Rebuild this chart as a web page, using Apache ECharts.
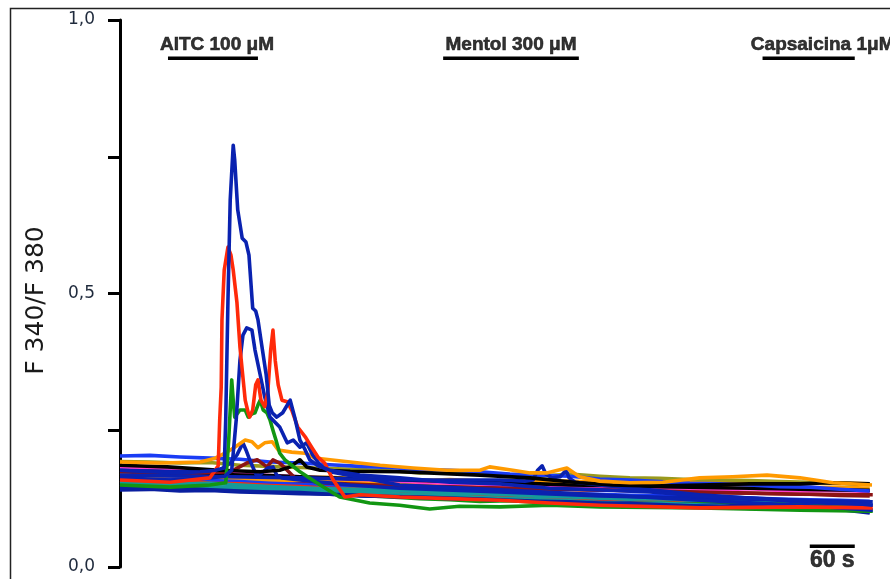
<!DOCTYPE html>
<html>
<head>
<meta charset="utf-8">
<script src="https://cdn.jsdelivr.net/npm/echarts@6/dist/echarts.min.js"></script>
<style>
  html, body { margin: 0; padding: 0; background: #fff; }
  #chart { width: 890px; height: 579px; }
</style>
</head>
<body>
<div id="chart"></div>
<script>
// time in s, values are F340/F380 ratio

// shared time grid for the flat (non responding) cells
const baseTime = [0, 40, 80, 120, 160, 200, 240, 280, 320, 360, 400, 440, 480, 520, 560, 600, 640, 680, 720, 760, 800, 840, 880, 920, 960, 1000];

const flatBlue1 = [0.203, 0.204, 0.201, 0.199, 0.197, 0.192, 0.190, 0.187, 0.184, 0.182, 0.178, 0.177, 0.174, 0.170, 0.168, 0.166, 0.161, 0.159, 0.156, 0.153, 0.152, 0.150, 0.147, 0.146, 0.142, 0.139];
const flatOlive = [0.193, 0.192, 0.190, 0.191, 0.186, 0.184, 0.182, 0.180, 0.178, 0.176, 0.172, 0.175, 0.170, 0.168, 0.166, 0.170, 0.166, 0.163, 0.162, 0.160, 0.159, 0.158, 0.156, 0.155, 0.153, 0.151];
const flatMagenta = [0.180, 0.181, 0.176, 0.172, 0.170, 0.167, 0.165, 0.162, 0.160, 0.158, 0.155, 0.153, 0.152, 0.150, 0.147, 0.146, 0.145, 0.146, 0.143, 0.142, 0.141, 0.143, 0.140, 0.139, 0.140, 0.138];
const flatOrange2 = [0.165, 0.166, 0.163, 0.162, 0.160, 0.158, 0.159, 0.156, 0.157, 0.155, 0.154, 0.153, 0.152, 0.151, 0.152, 0.150, 0.149, 0.150, 0.148, 0.147, 0.148, 0.146, 0.147, 0.145, 0.146, 0.144];
const flatOrange3 = [0.172, 0.170, 0.171, 0.168, 0.166, 0.165, 0.163, 0.164, 0.161, 0.160, 0.158, 0.160, 0.157, 0.158, 0.156, 0.157, 0.155, 0.158, 0.156, 0.155, 0.157, 0.154, 0.155, 0.153, 0.154, 0.152];
const flatRed1 = [0.158, 0.155, 0.157, 0.153, 0.152, 0.149, 0.147, 0.144, 0.142, 0.140, 0.136, 0.135, 0.133, 0.129, 0.128, 0.126, 0.122, 0.123, 0.120, 0.118, 0.120, 0.117, 0.116, 0.118, 0.114, 0.112];
const flatRed2 = [0.146, 0.148, 0.145, 0.143, 0.142, 0.139, 0.138, 0.136, 0.134, 0.133, 0.130, 0.131, 0.128, 0.127, 0.125, 0.124, 0.122, 0.121, 0.120, 0.119, 0.117, 0.116, 0.118, 0.115, 0.114, 0.113];
const flatTeal1 = [0.152, 0.149, 0.150, 0.147, 0.145, 0.142, 0.140, 0.139, 0.137, 0.134, 0.132, 0.130, 0.127, 0.125, 0.123, 0.121, 0.118, 0.116, 0.117, 0.114, 0.112, 0.107, 0.110, 0.108, 0.106, 0.100];
const flatTeal2 = [0.156, 0.154, 0.152, 0.153, 0.150, 0.147, 0.145, 0.143, 0.142, 0.140, 0.138, 0.135, 0.134, 0.132, 0.129, 0.128, 0.126, 0.124, 0.125, 0.122, 0.120, 0.121, 0.118, 0.117, 0.119, 0.116];
const flatNavy1 = [0.145, 0.143, 0.144, 0.141, 0.139, 0.137, 0.136, 0.133, 0.131, 0.129, 0.128, 0.126, 0.124, 0.122, 0.120, 0.119, 0.117, 0.116, 0.114, 0.112, 0.111, 0.109, 0.108, 0.107, 0.105, 0.099];
const flatNavy2 = [0.141, 0.142, 0.139, 0.140, 0.137, 0.136, 0.134, 0.133, 0.130, 0.129, 0.127, 0.125, 0.124, 0.122, 0.121, 0.119, 0.118, 0.117, 0.115, 0.114, 0.113, 0.112, 0.111, 0.110, 0.108, 0.106];
const flatBlue2 = [0.162, 0.160, 0.161, 0.158, 0.156, 0.153, 0.151, 0.149, 0.147, 0.145, 0.143, 0.141, 0.140, 0.138, 0.136, 0.134, 0.133, 0.131, 0.130, 0.128, 0.127, 0.126, 0.124, 0.123, 0.122, 0.120];
const flatMaroon = [0.168, 0.166, 0.167, 0.163, 0.160, 0.158, 0.157, 0.154, 0.152, 0.151, 0.149, 0.148, 0.146, 0.145, 0.143, 0.142, 0.141, 0.140, 0.139, 0.137, 0.136, 0.135, 0.134, 0.133, 0.131, 0.130];
const flatGreen = [0.148, 0.146, 0.147, 0.144, 0.142, 0.140, 0.137, 0.135, 0.131, 0.128, 0.125, 0.123, 0.120, 0.121, 0.118, 0.119, 0.117, 0.116, 0.117, 0.115, 0.116, 0.114, 0.115, 0.113, 0.114, 0.112];
const flatBlack = [0.176, 0.175, 0.173, 0.170, 0.168, 0.167, 0.165, 0.163, 0.161, 0.160, 0.158, 0.157, 0.155, 0.153, 0.152, 0.150, 0.149, 0.148, 0.147, 0.146, 0.145, 0.144, 0.143, 0.142, 0.141, 0.140];

// responding cells, [time, ratio]
const blueTall = [[0, 0.177], [40, 0.174], [80, 0.172], [107, 0.174], [127, 0.177], [139, 0.181], [141, 0.269], [144, 0.488], [147, 0.671], [151, 0.771], [153, 0.744], [157, 0.653], [163, 0.601], [168, 0.594], [172, 0.570], [177, 0.473], [181, 0.468], [184, 0.452], [189, 0.406], [195, 0.351], [199, 0.296], [203, 0.282], [209, 0.274], [217, 0.282], [227, 0.305], [233, 0.274], [240, 0.232], [247, 0.214], [253, 0.196], [264, 0.185], [280, 0.177], [320, 0.168], [373, 0.163], [440, 0.155], [507, 0.152], [573, 0.144], [640, 0.141], [707, 0.137], [773, 0.130], [840, 0.126], [907, 0.122], [973, 0.117], [1004, 0.113]];
const blueSecond = [[0, 0.163], [67, 0.159], [120, 0.163], [140, 0.166], [149, 0.177], [155, 0.269], [160, 0.378], [164, 0.424], [169, 0.437], [176, 0.433], [180, 0.397], [187, 0.351], [193, 0.311], [200, 0.274], [213, 0.256], [223, 0.227], [231, 0.232], [240, 0.219], [249, 0.227], [257, 0.205], [267, 0.186], [280, 0.174], [373, 0.150], [507, 0.141], [640, 0.132], [773, 0.122], [907, 0.113], [1004, 0.104]];
const redPeak = [[0, 0.159], [67, 0.155], [120, 0.163], [131, 0.185], [133, 0.269], [135, 0.329], [136, 0.452], [139, 0.543], [144, 0.585], [148, 0.570], [151, 0.543], [156, 0.483], [160, 0.402], [163, 0.360], [167, 0.305], [171, 0.282], [173, 0.274], [177, 0.287], [181, 0.333], [184, 0.342], [188, 0.305], [193, 0.293], [197, 0.318], [201, 0.397], [204, 0.433], [207, 0.378], [211, 0.333], [216, 0.305], [223, 0.302], [229, 0.287], [237, 0.256], [247, 0.238], [256, 0.218], [264, 0.201], [273, 0.190], [284, 0.160], [300, 0.128], [320, 0.132], [373, 0.128], [440, 0.125], [507, 0.122], [573, 0.117], [640, 0.113], [773, 0.108], [907, 0.110], [1004, 0.108]];
const greenPeak = [[0, 0.150], [67, 0.146], [120, 0.150], [141, 0.154], [145, 0.232], [148, 0.315], [149, 0.342], [151, 0.305], [153, 0.274], [160, 0.287], [167, 0.287], [171, 0.274], [176, 0.280], [180, 0.282], [184, 0.296], [187, 0.305], [191, 0.287], [196, 0.282], [200, 0.269], [204, 0.250], [208, 0.232], [213, 0.208], [220, 0.196], [229, 0.186], [240, 0.174], [267, 0.150], [293, 0.128], [333, 0.117], [373, 0.113], [413, 0.106], [453, 0.111], [507, 0.110], [573, 0.113], [640, 0.110], [773, 0.108], [907, 0.104], [1004, 0.102]];
const orangeBump = [[0, 0.192], [53, 0.190], [107, 0.192], [127, 0.199], [140, 0.208], [153, 0.219], [167, 0.232], [176, 0.229], [184, 0.218], [193, 0.227], [203, 0.229], [211, 0.214], [229, 0.210], [247, 0.208], [260, 0.199], [280, 0.196], [307, 0.192], [347, 0.186], [391, 0.181], [436, 0.177], [480, 0.177], [493, 0.183], [524, 0.177], [547, 0.172], [569, 0.172], [596, 0.181], [613, 0.165], [640, 0.157], [680, 0.154], [724, 0.155], [773, 0.163], [817, 0.165], [863, 0.168], [907, 0.163], [951, 0.154], [1003, 0.150]];
const blackBump = [[0, 0.186], [63, 0.183], [133, 0.177], [187, 0.174], [213, 0.177], [227, 0.183], [240, 0.196], [249, 0.183], [267, 0.177], [307, 0.175], [373, 0.174], [480, 0.168], [547, 0.163], [613, 0.154], [657, 0.150], [707, 0.148], [773, 0.150], [840, 0.152], [907, 0.152], [943, 0.154], [1000, 0.152]];
const blueMentol = [[0, 0.168], [107, 0.166], [240, 0.163], [373, 0.159], [440, 0.159], [507, 0.159], [540, 0.157], [551, 0.159], [557, 0.177], [563, 0.185], [568, 0.170], [576, 0.163], [587, 0.165], [595, 0.177], [599, 0.163], [607, 0.155], [640, 0.150], [707, 0.141], [773, 0.132], [840, 0.126], [907, 0.119], [1004, 0.113]];
const blueSmall = [[0, 0.177], [80, 0.174], [133, 0.177], [147, 0.190], [156, 0.205], [164, 0.227], [168, 0.214], [173, 0.196], [179, 0.177], [183, 0.165], [191, 0.174], [197, 0.181], [204, 0.183], [209, 0.168], [216, 0.163], [240, 0.159], [307, 0.150], [373, 0.144], [507, 0.137], [640, 0.130], [773, 0.126], [907, 0.122], [1004, 0.119]];
const maroonBump = [[0, 0.174], [80, 0.170], [147, 0.174], [169, 0.190], [183, 0.196], [196, 0.183], [204, 0.196], [213, 0.190], [223, 0.177], [233, 0.163], [267, 0.154], [373, 0.148], [507, 0.144], [640, 0.141], [773, 0.137], [907, 0.133], [1004, 0.132]];

// drug application bars
const drugNames = ['AITC 100 μM', 'Mentol 300 μM', 'Capsaicina 1μM'];
const drugStart = [64, 431, 857];
const drugEnd = [184, 612, 980];
const drugLevel = 0.930;
const drugTextLevel = 0.954;

// 60 s scale bar
const scaleBarTime = [920, 980];
const scaleBarLevel = 0.038;

const yTicks = [0, 0.25, 0.5, 0.75, 1];
const yTickLabels = ['0,0', '', '0,5', '', '1,0'];

const zip = (values) => values.map((v, i) => [baseTime[i], v]);

function trace(color, data, z) {
  return {
    type: 'line',
    data,
    symbol: 'none',
    smooth: false,
    z: z || 2,
    lineStyle: { color, width: 3.6, join: 'round' },
    silent: true,
  };
}

const series = [
  trace('#8c1414', zip(flatMaroon)),
  trace('#ff9a00', zip(flatOrange2)),
  trace('#ff9a00', zip(flatOrange3)),
  trace('#9a9a1e', zip(flatOlive)),
  trace('#ff3ccc', zip(flatMagenta)),
  trace('#000000', zip(flatBlack)),
  trace('#1a3cf5', zip(flatBlue1)),
  trace('#1a3cf5', zip(flatBlue2)),
  trace('#ff2a0a', zip(flatRed1)),
  trace('#ff2a0a', zip(flatRed2)),
  trace('#159a9a', zip(flatTeal2)),
  trace('#129612', zip(flatGreen)),
  trace('#0a1fa0', zip(flatNavy2)),
  trace('#159a9a', zip(flatTeal1)),
  trace('#0a1fa0', zip(flatNavy1)),
  trace('#8c1414', maroonBump, 3),
  trace('#0a22b0', blueSmall, 3),
  trace('#0a22b0', blueMentol, 3),
  trace('#000000', blackBump, 3),
  trace('#ff9a00', orangeBump, 3),
  trace('#129612', greenPeak, 4),
  trace('#0a22b0', blueSecond, 4),
  trace('#ff2a0a', redPeak, 5),
  trace('#0a22b0', blueTall, 5),
];

drugNames.forEach((name, i) => {
  series.push({
    type: 'line',
    data: [[drugStart[i], drugLevel], [drugEnd[i], drugLevel]],
    symbol: 'none',
    lineStyle: { color: '#000', width: 3.5 },
    silent: true,
    z: 6,
  });
});

const boldText = {
  color: '#000',
  fontFamily: 'Liberation Sans, Arial, sans-serif',
  fontWeight: 'bold',
  textBorderColor: '#000',
  textBorderWidth: 0.6,
};

series.push({
  type: 'scatter',
  symbolSize: 0,
  silent: true,
  z: 7,
  data: drugNames.map((name, i) => ({
    value: [(drugStart[i] + drugEnd[i]) / 2, drugTextLevel],
    name,
    label: { offset: [i === 0 ? 4 : i === 2 ? 14 : 0, 0] },
  })),
  label: Object.assign({
    show: true,
    position: 'inside',
    formatter: (p) => p.name,
    fontSize: 19,
  }, boldText),
});

series.push({
  type: 'line',
  data: scaleBarTime.map((t) => [t, scaleBarLevel]),
  symbol: 'none',
  lineStyle: { color: '#000', width: 3.5 },
  silent: true,
  z: 6,
});

series.push({
  type: 'scatter',
  symbolSize: 0,
  silent: true,
  z: 7,
  data: [{ value: [(scaleBarTime[0] + scaleBarTime[1]) / 2, scaleBarLevel], name: '60 s' }],
  label: Object.assign({
    show: true,
    position: 'bottom',
    distance: 3,
    formatter: (p) => p.name,
    fontSize: 23,
  }, boldText),
});

const chart = echarts.init(document.getElementById('chart'), null, { renderer: 'canvas' });
chart.setOption({
  animation: false,
  backgroundColor: '#fff',
  grid: { left: 120, right: 0, top: 20, bottom: 12, containLabel: false },
  graphic: [
    {
      type: 'rect',
      shape: { x: 10.5, y: 8.5, width: 900, height: 600 },
      style: { fill: 'none', stroke: '#222', lineWidth: 1.5 },
      silent: true,
      z: 0,
    },
  ],
  xAxis: {
    type: 'value',
    min: 0,
    max: 1027,
    show: false,
  },
  yAxis: {
    type: 'value',
    min: yTicks[0],
    max: yTicks[yTicks.length - 1],
    interval: 0.25,
    name: 'F 340/F 380',
    nameLocation: 'middle',
    nameRotate: 90,
    nameGap: 71,
    nameTextStyle: {
      color: '#1a1a1a',
      fontFamily: 'DejaVu Sans, Verdana, sans-serif',
      fontSize: 25,
      padding: [0, 14, 0, 0],
    },
    axisLine: { show: true, lineStyle: { color: '#000', width: 3 } },
    axisTick: { show: true, length: 12, lineStyle: { color: '#000', width: 3 } },
    splitLine: { show: false },
    axisLabel: {
      margin: 25,
      color: '#1f2a3c',
      fontFamily: 'DejaVu Sans, Verdana, sans-serif',
      fontSize: 17,
      formatter: (v) => yTickLabels[yTicks.indexOf(v)] || '',
    },
  },
  series,
});
</script>
</body>
</html>
